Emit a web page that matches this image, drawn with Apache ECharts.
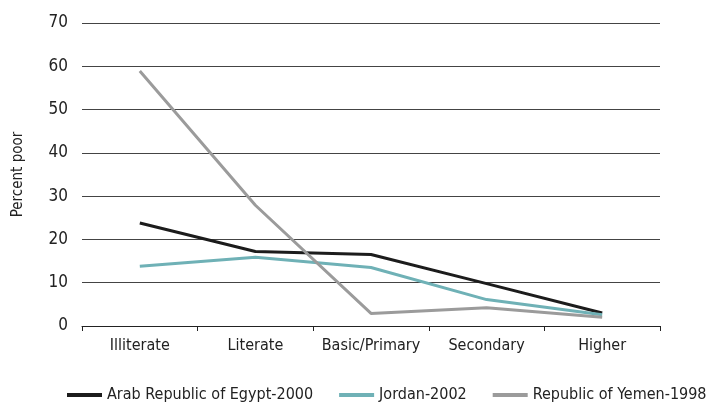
<!DOCTYPE html>
<html>
<head>
<meta charset="utf-8">
<script src="https://cdn.jsdelivr.net/npm/echarts@6/dist/echarts.min.js"></script>
<style>
  html, body {margin: 0; padding: 0; background: #fff;}
  #main {width: 723px; height: 409px;}
</style>
</head>
<body>
<div id="main"></div>
<script>
  const categories = ['Illiterate', 'Literate', 'Basic/Primary', 'Secondary', 'Higher'];
  const egypt = [23.8, 17.2, 16.5, 9.8, 3.0];
  const jordan = [13.8, 15.9, 13.5, 6.1, 2.6];
  const yemen = [58.9, 27.9, 2.9, 4.2, 2.0];
  const yTicks = [0, 70, 10];

  const font = '"DejaVu Sans Condensed", "Liberation Sans Narrow", sans-serif';
  const chart = echarts.init(document.getElementById('main'));

  const lineSeries = function (name, data, color) {
    return {
      name: name,
      type: 'line',
      data: data,
      symbol: 'none',
      lineStyle: {color: color, width: 3},
      itemStyle: {color: color}
    };
  };

  chart.setOption({
    animation: false,
    textStyle: {fontFamily: font},
    grid: {left: 82, right: 63, top: 23, bottom: 83},
    legend: {
      bottom: 1,
      left: 62,
      icon: 'rect',
      itemWidth: 35,
      itemHeight: 4,
      itemGap: 26,
      textStyle: {fontFamily: font, fontSize: 16, color: '#222'},
      data: ['Arab Republic of Egypt-2000', 'Jordan-2002', 'Republic of Yemen-1998']
    },
    xAxis: {
      type: 'category',
      data: categories,
      boundaryGap: true,
      axisLine: {lineStyle: {color: '#222', width: 1}},
      axisTick: {show: true, interval: 0, length: 5, lineStyle: {color: '#222'}},
      axisLabel: {interval: 0, fontFamily: font, fontSize: 16, color: '#222', margin: 12}
    },
    yAxis: {
      type: 'value',
      min: yTicks[0],
      max: yTicks[1],
      interval: yTicks[2],
      name: 'Percent poor',
      nameLocation: 'middle',
      nameGap: 56,
      nameTextStyle: {fontFamily: font, fontSize: 15, color: '#222'},
      axisLine: {show: false},
      axisTick: {show: false},
      axisLabel: {fontFamily: font, fontSize: 17, color: '#222', margin: 14},
      splitLine: {lineStyle: {color: '#444', width: 1}}
    },
    series: [
      lineSeries('Arab Republic of Egypt-2000', egypt, '#1c1c1c'),
      lineSeries('Jordan-2002', jordan, '#6fb1b6'),
      lineSeries('Republic of Yemen-1998', yemen, '#9b9b9b')
    ]
  });
</script>
</body>
</html>
